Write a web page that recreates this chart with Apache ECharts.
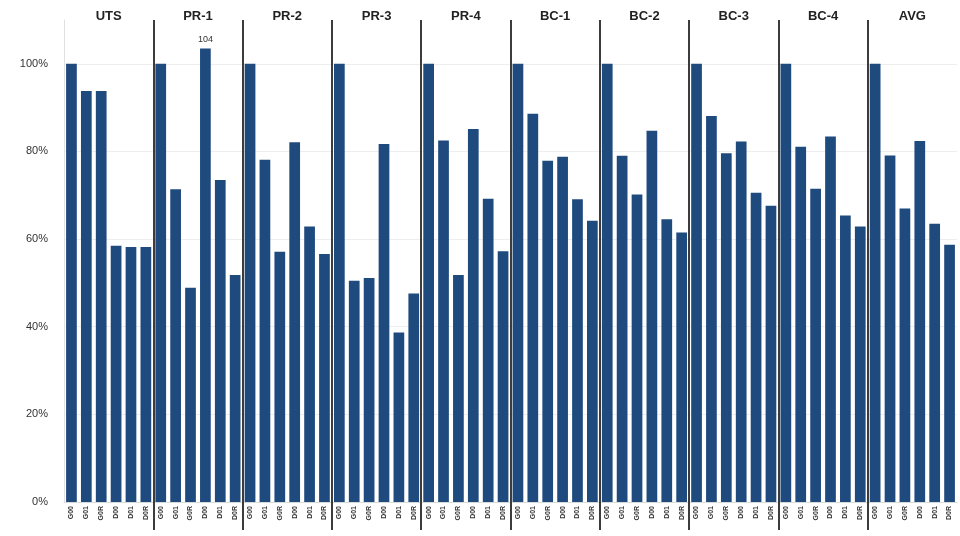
<!DOCTYPE html>
<html>
<head>
<meta charset="utf-8">
<script src="https://cdn.jsdelivr.net/npm/echarts@6/dist/echarts.min.js"></script>
<style>
    html, body { margin: 0; padding: 0; background: #fff; }
    #chart { width: 960px; height: 536px; }
</style>
</head>
<body>
<div id="chart"></div>
<script>
// 分组名称
var groups = ['UTS', 'PR-1', 'PR-2', 'PR-3', 'PR-4', 'BC-1', 'BC-2', 'BC-3', 'BC-4', 'AVG'];
// 每组内的子类
var subLabels = ['G00', 'G01', 'G0R', 'D00', 'D01', 'D0R'];
// 各组数值 (%)
var uts = [100, 93.8, 93.8, 58.5, 58.2, 58.2];
var pr1 = [100, 71.4, 48.9, 103.5, 73.5, 51.8];
var pr2 = [100, 78.1, 57.1, 82.1, 62.9, 56.6];
var pr3 = [100, 50.5, 51.1, 81.7, 38.7, 47.6];
var pr4 = [100, 82.5, 51.8, 85.1, 69.2, 57.2];
var bc1 = [100, 88.6, 77.9, 78.8, 69.1, 64.2];
var bc2 = [100, 79.0, 70.2, 84.7, 64.5, 61.5];
var bc3 = [100, 88.1, 79.6, 82.3, 70.6, 67.6];
var bc4 = [100, 81.1, 71.5, 83.4, 65.4, 62.9];
var avg = [100, 79.1, 67.0, 82.4, 63.5, 58.7];
var yTicks = [0, 20, 40, 60, 80, 100];

var allGroups = [uts, pr1, pr2, pr3, pr4, bc1, bc2, bc3, bc4, avg];
var categories = [];
var values = [];
allGroups.forEach(function (g, gi) {
    g.forEach(function (v, i) {
        categories.push(groups[gi] + '_' + subLabels[i]);
        if (v > 100) {
            // 超过100的柱子显示数值
            values.push({ value: v, label: { show: true, position: 'top', formatter: function (p) { return Math.round(p.value); } } });
        } else {
            values.push(v);
        }
    });
});

// 分隔线颜色: 右端最后一条不显示
var sepColor = new echarts.graphic.LinearGradient(0, 0, 960, 0, [
    { offset: 0, color: '#3c3c3c' },
    { offset: 950 / 960, color: '#3c3c3c' },
    { offset: 951 / 960, color: 'rgba(0,0,0,0)' },
    { offset: 1, color: 'rgba(0,0,0,0)' }
], true);

var chart = echarts.init(document.getElementById('chart'));
var option = {
    animation: false,
    grid: { left: 64, right: 3, top: 20, bottom: 34 },
    xAxis: [
        {
            type: 'category',
            data: categories,
            axisLine: { lineStyle: { color: '#d9d9d9' } },
            axisTick: { show: false },
            axisLabel: {
                interval: 0,
                rotate: 90,
                margin: 4,
                fontSize: 7,
                fontFamily: 'Liberation Sans',
                fontWeight: 'bold',
                color: '#333',
                formatter: function (v) { return v.split('_')[1]; }
            }
        },
        {
            type: 'category',
            position: 'top',
            data: groups,
            axisLine: { show: false },
            axisTick: {
                show: true,
                inside: true,
                length: 510,
                interval: function (index) { return index > 0; },
                lineStyle: { color: sepColor, width: 2 }
            },
            axisLabel: {
                interval: 0,
                margin: -3,
                fontSize: 13,
                fontWeight: 'bold',
                fontFamily: 'Liberation Sans',
                color: '#222'
            }
        }
    ],
    yAxis: {
        type: 'value',
        min: 0,
        max: 110,
        interval: 20,
        axisLine: { show: true, lineStyle: { color: '#e0e0e0' } },
        axisTick: { show: false },
        splitLine: { show: true, showMaxLine: false, lineStyle: { color: '#eeeeee' } },
        axisLabel: {
            margin: 16,
            fontSize: 11,
            fontFamily: 'Liberation Sans',
            color: '#333',
            showMaxLabel: false,
            formatter: function (v) { return yTicks.indexOf(v) >= 0 ? v + '%' : ''; }
        }
    },
    series: [
        {
            type: 'bar',
            data: values,
            barCategoryGap: '28%',
            itemStyle: { color: '#1f4a7e' },
            label: {
                fontSize: 9,
                fontFamily: 'Liberation Sans',
                color: '#333',
                distance: 4
            }
        }
    ]
};
chart.setOption(option);
</script>
</body>
</html>
